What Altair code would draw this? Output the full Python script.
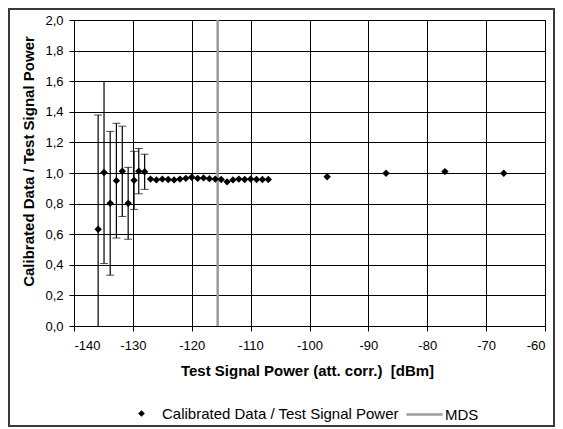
import altair as alt
import pandas as pd

# --- data ---
err_x = [-135.9, -134.9, -133.85, -132.8, -131.8, -130.8, -129.8, -129.0, -128.0]
err_y = [0.632, 1.003, 0.802, 0.950, 1.011, 0.802, 0.952, 1.012, 1.008]
err_e = [0.747, 0.595, 0.470, 0.375, 0.295, 0.235, 0.190, 0.148, 0.115]

dense_x = [-127, -126, -125, -124, -123, -122, -121, -120, -119, -118, -117,
           -116, -115, -114, -113, -112, -111, -110, -109, -108, -107]
dense_y = [0.960, 0.955, 0.960, 0.958, 0.955, 0.960, 0.965, 0.972, 0.965, 0.968, 0.963,
           0.960, 0.958, 0.942, 0.955, 0.960, 0.958, 0.960, 0.958, 0.958, 0.958]

far_x = [-97, -87, -77, -67]
far_y = [0.976, 0.998, 1.009, 0.998]

mds_x = [-115.6]

x_ticks = [-140, -130, -120, -110, -100, -90, -80, -70, -60]
y_ticks = [0.0, 0.2, 0.4, 0.6, 0.8, 1.0, 1.2, 1.4, 1.6, 1.8, 2.0]

SERIES = "Calibrated Data / Test Signal Power"
FONT = "Liberation Sans, Arial, sans-serif"

pts = pd.DataFrame({
    "x": err_x + dense_x + far_x,
    "y": err_y + dense_y + far_y,
})
pts["s"] = SERIES

errs = pd.DataFrame({"x": err_x, "y": err_y, "e": err_e})
errs["lo"] = errs["y"] - errs["e"]
errs["hi"] = errs["y"] + errs["e"]

mds = pd.DataFrame({"x": mds_x, "s": ["MDS"]})
frame = pd.DataFrame({"a": [0]})

xscale = alt.Scale(domain=[-140, -60], nice=False, zero=False)
yscale = alt.Scale(domain=[0, 2], nice=False, zero=False)

xaxis = alt.Axis(values=x_ticks, labelExpr="datum.value + ''",
                 title="Test Signal Power (att. corr.)\u00a0 [dBm]",
                 labelPadding=8, titlePadding=11, labelOverlap=False, titleX=233)
yaxis = alt.Axis(values=y_ticks, labelExpr="replace(format(datum.value, '.1f'), '.', ',')",
                 title="Calibrated Data / Test Signal Power",
                 labelPadding=6, titlePadding=8, labelOverlap=False, titleY=141)


def X(field="x"):
    return alt.X(f"{field}:Q", scale=xscale, axis=xaxis)


def Y(field):
    return alt.Y(f"{field}:Q", scale=yscale, axis=yaxis)


mds_layer = alt.Chart(mds).mark_rule(strokeWidth=2.5).encode(
    x=X(),
    color=alt.Color("s:N", scale=alt.Scale(domain=["MDS"], range=["#9a9a9a"]),
                    legend=alt.Legend(orient="none", legendX=331, legendY=375, title=None,
                                      symbolType="stroke", symbolSize=1300,
                                      symbolStrokeWidth=2.5, labelOffset=1,
                                      labelLimit=400)),
)

rules = alt.Chart(errs).mark_rule(color="black", strokeWidth=1.2, clip=True).encode(
    x=X(), y=Y("lo"), y2="hi:Q",
)
caps_hi = alt.Chart(errs).mark_tick(color="black", orient="horizontal", size=8,
                                    thickness=1, clip=True).encode(
    x=X(), y=Y("hi"),
)
caps_lo = alt.Chart(errs).mark_tick(color="black", orient="horizontal", size=8,
                                    thickness=1, clip=True).encode(
    x=X(), y=Y("lo"),
)

points = alt.Chart(pts).mark_point(filled=True, size=55, color="black", opacity=1).encode(
    x=X(), y=Y("y"),
    shape=alt.Shape("s:N", scale=alt.Scale(domain=[SERIES], range=["diamond"]),
                    legend=alt.Legend(orient="none", legendX=60, legendY=386, title=None,
                                      symbolSize=45, labelOffset=13, labelLimit=400)),
)

border = alt.Chart(frame).mark_rect(fillOpacity=0, stroke="#3a3a3a", strokeWidth=2).encode(
    x=alt.value(-65), x2=alt.value(480), y=alt.value(-11), y2=alt.value(406),
)

chart = alt.layer(mds_layer, rules, caps_hi, caps_lo, points, border).resolve_legend(
    color="independent", shape="independent"
).properties(
    width=471, height=306,
    padding={"left": 66, "top": 12, "right": 10, "bottom": 102},
    autosize=alt.AutoSizeParams(type="none"),
).configure_view(
    stroke="black", strokeWidth=1,
).configure_axis(
    grid=True, gridColor="black", gridWidth=1, gridOpacity=1,
    domainColor="black", tickColor="black", tickSize=5,
    labelFont=FONT, labelFontSize=13, labelColor="black",
    titleFont=FONT, titleFontSize=15, titleFontWeight="bold", titleColor="black",
).configure_legend(
    labelFont=FONT, labelFontSize=15, labelColor="black",
)

chart.save("out.html", embed_options={"renderer": "svg", "actions": False})
